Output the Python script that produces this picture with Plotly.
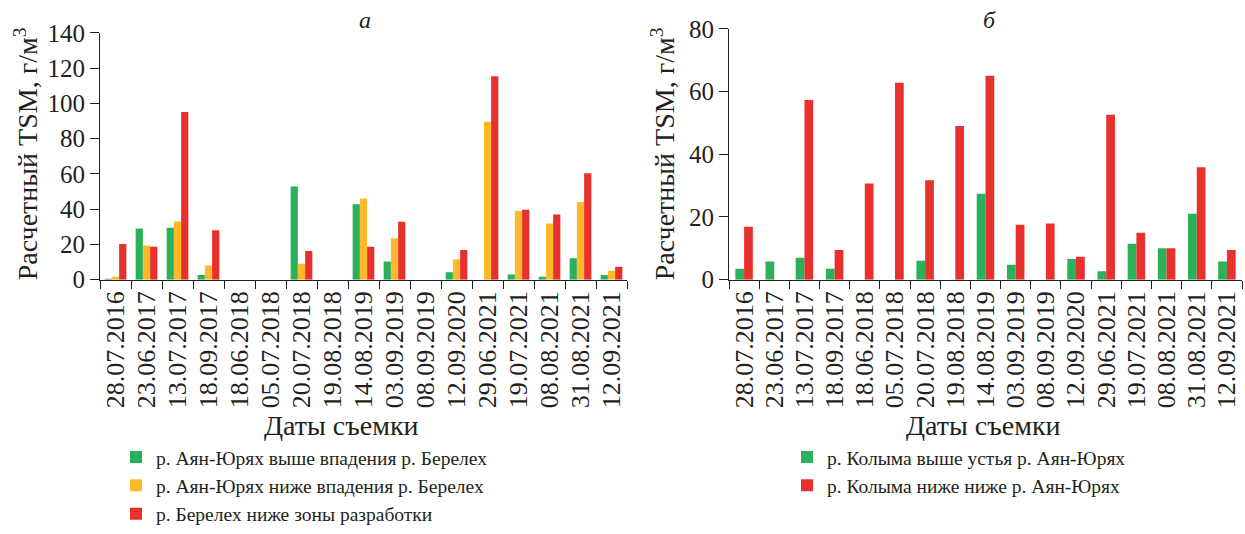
import plotly.graph_objects as go

dates = ["28.07.2016", "23.06.2017", "13.07.2017", "18.09.2017", "18.06.2018",
         "05.07.2018", "20.07.2018", "19.08.2018", "14.08.2019", "03.09.2019",
         "08.09.2019", "12.09.2020", "29.06.2021", "19.07.2021", "08.08.2021",
         "31.08.2021", "12.09.2021"]

# Panel a
ayan_above = [0.3, 29, 29.4, 2.6, 0, 0, 52.8, 0, 42.8, 10.3, 0, 4.2, 0, 3, 1.7, 12.2, 2.6]
ayan_below = [1.7, 19.4, 33, 8.1, 0, 0, 9, 0, 46, 23.5, 0, 11.5, 89.6, 39, 31.8, 44, 5]
berelekh = [20.3, 18.7, 95.1, 28, 0, 0, 16.3, 0, 18.7, 32.9, 0, 16.8, 115.4, 39.7, 36.9, 60.4, 7.4]

# Panel b
kolyma_above = [3.5, 5.8, 7, 3.5, 0, 0, 6, 0, 27.4, 4.8, 0, 6.6, 2.7, 11.5, 10, 21, 5.8]
kolyma_below = [16.9, 0, 57.3, 9.5, 30.7, 62.8, 31.7, 49, 65.1, 17.5, 17.9, 7.3, 52.6, 15, 10, 35.9, 9.5]

names_a = ["р. Аян-Юрях выше впадения р. Берелех",
           "р. Аян-Юрях ниже впадения р. Берелех",
           "р. Берелех ниже зоны разработки"]
names_b = ["р. Колыма выше устья р. Аян-Юрях",
           "р. Колыма ниже ниже р. Аян-Юрях"]

GREEN = "#2bb159"
YELLOW = "#fdb92a"
RED = "#e8302c"
TXT = "#231f20"
FONT = "Liberation Serif"
W, H = 1245, 534

fig = go.Figure()
for vals, nm, col in zip([ayan_above, ayan_below, berelekh], names_a, [GREEN, YELLOW, RED]):
    fig.add_trace(go.Bar(x=dates, y=vals, name=nm, marker=dict(color=col, line=dict(width=0)),
                         xaxis="x", yaxis="y", legend="legend", offsetgroup=nm))

for vals, nm, col, off in zip([kolyma_above, kolyma_below], names_b, [GREEN, RED], [-0.29, 0.0]):
    fig.add_trace(go.Bar(x=dates, y=vals, name=nm, marker=dict(color=col, line=dict(width=0)),
                         xaxis="x2", yaxis="y2", legend="legend2", width=0.29, offset=off))


def px_x(p):
    return p / W


def px_y(p):
    return 1 - p / H


xtickfont = dict(family=FONT, size=26, color=TXT)
ytickfont = dict(family=FONT, size=25, color=TXT)
xaxis_common = dict(type="category", tickangle=-90, tickfont=xtickfont, showline=True,
                    linecolor=TXT, linewidth=1.2, ticks="outside", ticklen=8, tickcolor=TXT,
                    tickwidth=1.2, tickson="boundaries", showgrid=False, automargin=False,
                    tickmode="linear", tick0=0, dtick=1, fixedrange=True)
yaxis_common = dict(tickfont=ytickfont, showline=True, linecolor=TXT, linewidth=1.2,
                    ticks="outside", ticklen=9, tickcolor=TXT, tickwidth=1.2, showgrid=False,
                    zeroline=False, automargin=False, dtick=20)
legfont = dict(family=FONT, size=19.5, color=TXT)

fig.update_layout(
    width=W, height=H, autosize=False,
    margin=dict(l=0, r=0, t=0, b=0, pad=0),
    paper_bgcolor="white", plot_bgcolor="white",
    barmode="group", bargap=0.3, bargroupgap=0,
    font=dict(family=FONT, color=TXT),
    xaxis=dict(domain=[px_x(100), px_x(627)], anchor="y", **xaxis_common),
    yaxis=dict(domain=[px_y(290), px_y(34)], anchor="x", range=[0, 140], **yaxis_common),
    xaxis2=dict(domain=[px_x(729), px_x(1242)], anchor="y2", **xaxis_common),
    yaxis2=dict(domain=[px_y(290), px_y(30)], anchor="x2", range=[0, 80], **yaxis_common),
    legend=dict(x=px_x(116), y=px_y(454), xanchor="left", yanchor="top", font=legfont,
                itemwidth=30, tracegroupgap=0, bgcolor="rgba(0,0,0,0)", traceorder="normal"),
    legend2=dict(x=px_x(787), y=px_y(454), xanchor="left", yanchor="top", font=legfont,
                 itemwidth=30, tracegroupgap=0, bgcolor="rgba(0,0,0,0)", traceorder="normal"),
    showlegend=True,
)

ann = [
    dict(text="<i>а</i>", x=px_x(365), y=px_y(21), size=24),
    dict(text="<i>б</i>", x=px_x(989), y=px_y(21), size=24),
    dict(text="Даты съемки", x=px_x(341), y=px_y(441), size=28),
    dict(text="Даты съемки", x=px_x(983), y=px_y(441), size=28),
]
for a in ann:
    fig.add_annotation(text=a["text"], x=a["x"], y=a["y"], xref="paper", yref="paper",
                       showarrow=False, xanchor="center", yanchor="middle",
                       font=dict(family=FONT, size=a["size"], color=TXT))

for xc, yc in [(26, 160), (663, 160)]:
    fig.add_annotation(text="Расчетный TSM, г/м<sup>3</sup>", x=px_x(xc), y=px_y(yc),
                       xref="paper", yref="paper", showarrow=False, textangle=-90,
                       xanchor="center", yanchor="middle",
                       font=dict(family=FONT, size=28, color=TXT))

page_fix = (
    "document.documentElement.style.margin='0';"
    "document.documentElement.style.overflow='hidden';"
    "document.body.style.margin='0';"
    "document.body.style.overflow='hidden';"
)
fig.write_html("out.html", config={"displayModeBar": False, "responsive": False},
               post_script=page_fix)
